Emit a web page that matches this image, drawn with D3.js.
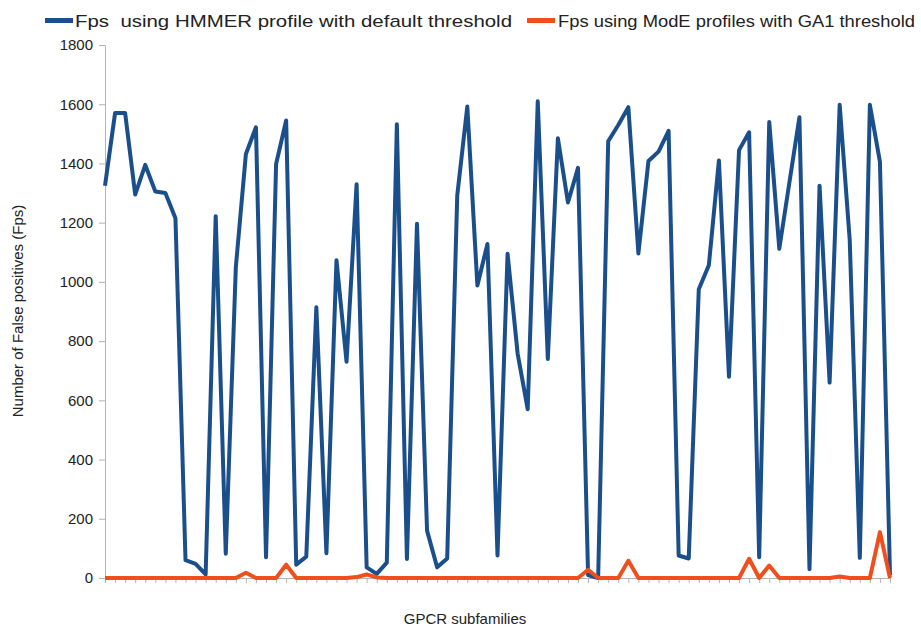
<!DOCTYPE html>
<html><head><meta charset="utf-8">
<script src="https://cdn.jsdelivr.net/npm/d3@7"></script>
<style>body{margin:0;background:#fff;}svg{display:block;font-family:"Liberation Sans",Arial,sans-serif;}</style>
</head><body>
<svg id="c" width="921" height="628"></svg>
<script>
const seriesNames = ["Fps  using HMMER profile with default threshold", "Fps using ModE profiles with GA1 threshold"];
const hmmerFps = [1325,1570,1570,1295,1395,1305,1300,1215,60,48,12,1222,82,1050,1432,1522,70,1398,1545,45,
 72,914,84,1073,730,1330,36,14,52,1532,64,1196,160,36,66,1292,1592,988,1128,76,
 1095,758,570,1610,740,1485,1268,1385,10,0,1475,1530,1590,1096,1408,1440,1510,76,66,975,
 1056,1410,680,1445,1505,70,1540,1112,1335,1556,30,1325,660,1598,1140,68,1598,1405,10];
const modeFps = [0,0,0,0,0,0,0,0,0,0,0,0,0,0,18,0,0,0,45,0,
 0,0,0,0,0,3,12,2,0,0,0,0,0,0,0,0,0,0,0,0,
 0,0,0,0,0,0,0,0,28,0,0,0,58,0,0,0,0,0,0,0,
 0,0,0,0,65,0,42,0,0,0,0,0,0,5,0,0,0,155,0];
const categories = hmmerFps.map((d,i)=>i+1);
const yTicks = [0,200,400,600,800,1000,1200,1400,1600,1800];
const colors = ["#1b4f8c","#ee4f1d"];
const xTitle = "GPCR subfamilies";
const yTitle = "Number of False positives (Fps)";

const svg = d3.select("#c");
const L=105,R=890,T=45,B=578;
const x = d3.scalePoint().domain(categories).range([L,R]);
const y = d3.scaleLinear().domain([0,1800]).range([B,T]);

// y axis
const ya = svg.append("g").attr("transform",`translate(${L},0)`)
  .call(d3.axisLeft(y).tickValues(yTicks).tickFormat(d3.format("d")).tickSize(6).tickPadding(6));
ya.select(".domain").attr("stroke","#b3b3b3");
ya.selectAll(".tick line").attr("stroke","#b3b3b3");
ya.selectAll(".tick text").attr("font-size",15).attr("fill","#222").attr("font-family","Liberation Sans, Arial, sans-serif");

// x axis
const xa = svg.append("g").attr("transform",`translate(0,${B})`)
  .call(d3.axisBottom(x).tickSize(5).tickFormat(""));
xa.select(".domain").attr("stroke","#b3b3b3");
xa.selectAll(".tick line").attr("stroke","#b3b3b3");

const line = d3.line().x((d,i)=>x(categories[i])).y(d=>y(d));
[hmmerFps, modeFps].forEach((s,k)=>{
  svg.append("path").datum(s).attr("d",line).attr("fill","none")
    .attr("stroke",colors[k]).attr("stroke-width",4).attr("stroke-linejoin","round");
});

// titles
svg.append("text").attr("x",465).attr("y",624).attr("text-anchor","middle")
  .attr("font-size",15).attr("fill","#222").text(xTitle);
svg.append("text").attr("transform","translate(23,311) rotate(-90)").attr("text-anchor","middle")
  .attr("font-size",15).attr("fill","#222").text(yTitle);

// legend
const leg = [{x:45,tx:75,w:437},{x:527,tx:558,w:357}];
leg.forEach((p,k)=>{
  svg.append("rect").attr("x",p.x).attr("y",18).attr("width",28).attr("height",5).attr("fill",colors[k]);
  svg.append("text").attr("x",p.tx).attr("y",27).attr("font-size",17).attr("fill","#222")
    .attr("xml:space","preserve").style("white-space","pre")
    .attr("textLength",p.w).attr("lengthAdjust","spacingAndGlyphs").text(seriesNames[k]);
});
</script>
</body></html>
